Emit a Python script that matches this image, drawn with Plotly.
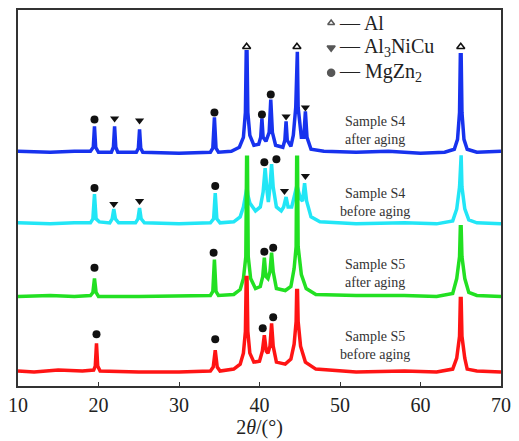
import plotly.graph_objects as go

# ---- data (2theta in degrees, intensity in arbitrary units incl. stacking offset) ----
blue_pts = [(10,236),(14,235),(17,236),(19.0,236),(19.35,240),(19.5,261),(19.65,240),(20.0,235),
            (21.6,235),(21.85,240),(22.0,261),(22.15,240),(22.4,235),(24.7,235),(24.95,239),(25.1,258),
            (25.25,239),(25.5,235),(30,234),(33.9,235),(34.2,239),(34.4,270),(34.6,239),(34.9,235),
            (36.5,236),(37.5,240),(38.0,250),(38.25,275),(38.35,336),(38.45,336),(38.55,275),(38.8,252),
            (39.3,242),(39.9,243),(40.15,250),(40.3,269),(40.45,250),(40.8,246),(41.2,255),(41.4,288),
            (41.6,255),(42.0,242),(42.9,240),(43.15,247),(43.3,266),(43.45,247),(43.9,241),(44.2,252),
            (44.5,280),(44.6,336),(44.7,336),(44.8,280),(45.2,250),(45.5,250),(45.7,276),(45.9,250),
            (46.4,238),(48,236),(52,235),(56,236),(60,234),(63,235),(64.2,238),(64.6,248),(64.85,275),
            (64.95,333),(65.05,333),(65.15,275),(65.4,248),(65.8,238),(67,235),(70,236)]
cyan_pts = [(10,164),(14,163),(17,164),(19.0,164),(19.3,168),(19.5,193),(19.7,168),(20.1,165),
            (21.4,164),(21.7,168),(21.9,178),(22.1,168),(22.5,164),(24.6,164),(24.9,168),(25.1,179),
            (25.3,168),(25.7,164),(30,163),(33.9,164),(34.3,168),(34.5,194),(34.7,168),(35.1,164),
            (36.8,165),(37.6,170),(38.0,180),(38.25,192),(38.35,200),(38.45,200),(38.55,192),(38.8,184),
            (39.5,176),(40.1,180),(40.45,195),(40.7,219),(40.95,195),(41.1,185),(41.3,200),(41.5,223),
            (41.7,200),(42.1,180),(42.7,176),(43.0,180),(43.3,190),(43.55,180),(44.0,180),(44.35,192),
            (44.6,200),(44.7,200),(44.95,192),(45.1,188),(45.35,186),(45.6,204),(45.85,186),(46.4,170),
            (47.5,165),(52,163),(58,164),(62,163),(64.0,166),(64.5,178),(64.85,200),(64.95,232),
            (65.05,232),(65.15,200),(65.5,178),(66.0,167),(67,164),(70,163)]
green_pts = [(10,90),(14,91),(17,90),(19.0,91),(19.3,94),(19.5,108),(19.7,94),(20.0,90),(25,90),
             (30,91),(33.9,91),(34.2,95),(34.4,127),(34.6,95),(34.9,91),(36.8,92),(37.6,97),(38.0,108),
             (38.3,130),(38.4,230),(38.5,230),(38.6,130),(38.9,108),(39.5,98),(40.1,100),(40.4,110),
             (40.6,129),(40.8,110),(41.05,108),(41.3,115),(41.5,134),(41.7,115),(42.1,98),(43.2,96),
             (43.9,100),(44.3,118),(44.55,140),(44.62,230),(44.72,230),(44.8,140),(45.2,112),(45.8,98),
             (47,92),(52,91),(58,91),(62,90),(64.0,93),(64.5,108),(64.85,130),(64.95,160),(65.05,160),
             (65.15,130),(65.5,108),(66.0,94),(67,91),(70,90)]
red_pts = [(10,15),(12,14),(15,16),(18,15),(19.4,16),(19.6,20),(19.75,43),(19.9,20),(20.2,15),(25,14),
           (30,14),(33.9,15),(34.25,19),(34.5,36),(34.75,19),(35.1,15),(36.8,17),(37.6,22),(38.0,33),
           (38.25,55),(38.35,109),(38.45,109),(38.55,55),(38.8,33),(39.3,24),(40.0,25),(40.35,35),
           (40.6,51),(40.85,35),(41.05,33),(41.3,40),(41.5,63),(41.7,40),(42.1,24),(43.2,22),(43.9,27),
           (44.3,42),(44.55,65),(44.62,96),(44.72,96),(44.8,65),(45.1,40),(45.7,24),(47,17),(52,14),
           (58,15),(62,14),(64.0,17),(64.5,28),(64.85,50),(64.95,88),(65.05,88),(65.15,50),(65.5,28),
           (65.8,17),(67,15),(70,14)]

# phase markers
al_x = [38.4, 44.65, 65.0]
al_y = [341, 341, 341]
nicu_x = [22.0, 25.1, 43.3, 45.7, 21.9, 25.1, 43.1, 45.7]
nicu_y = [269, 267, 271, 280, 183, 186, 196, 211]
mgzn_x = [19.5, 34.4, 40.3, 41.4, 19.5, 34.5, 40.6, 42.1, 19.5, 34.3, 40.6, 41.7, 19.75, 34.5, 40.4, 41.7]
mgzn_y = [268, 275, 273, 293, 199, 201, 225, 228, 119, 134, 135, 139, 52, 47, 58, 69]

sample_labels = ["Sample S5<br>before aging", "Sample S5<br>after aging",
                 "Sample S4<br>before aging", "Sample S4<br>after aging"]
label_x = [54.4, 54.4, 54.4, 54.4]
label_y = [40.5, 113, 184.5, 257]

legend_names = ["— Al", "— Al<sub>3</sub>NiCu", "— MgZn<sub>2</sub>"]
legend_x = [48.9, 48.9, 48.9]
legend_y = [365, 340, 315]

x_ticks = [10, 20, 30, 40, 50, 60, 70]

# drawn bottom-most last so lower patterns' Al peaks show through the stack as in the original
series = [(blue_pts, "#1732ee"), (cyan_pts, "#22e6f6"), (green_pts, "#22e022"), (red_pts, "#ff1414")]

SERIF = "Liberation Serif"
fig = go.Figure()
for pts, col in series:
    fig.add_trace(go.Scatter(x=[p[0] for p in pts], y=[p[1] for p in pts], mode="lines",
                             line=dict(color=col, width=3.5), hoverinfo="skip", showlegend=False))

fig.add_trace(go.Scatter(x=al_x, y=al_y, mode="markers", showlegend=False,
                         marker=dict(symbol="triangle-up-open", size=7, color="#111",
                                     line=dict(width=1.6, color="#111"))))
fig.add_trace(go.Scatter(x=nicu_x, y=nicu_y, mode="markers", showlegend=False,
                         marker=dict(symbol="triangle-down", size=8, color="#111")))
fig.add_trace(go.Scatter(x=mgzn_x, y=mgzn_y, mode="markers", showlegend=False,
                         marker=dict(symbol="circle", size=8, color="#111")))

# legend symbols
fig.add_trace(go.Scatter(x=legend_x, y=legend_y, mode="markers", showlegend=False,
                         marker=dict(symbol=["triangle-up-open", "triangle-down", "circle"],
                                     size=[6, 7, 7], color="#111", line=dict(width=1.5, color="#111"))))
for nm, lx, ly in zip(legend_names, legend_x, legend_y):
    fig.add_annotation(x=lx + 0.75, y=ly, text=nm, showarrow=False, xanchor="left", yanchor="middle",
                       font=dict(family=SERIF, size=20, color="#222"))

for t, lx, ly in zip(sample_labels, label_x, label_y):
    fig.add_annotation(x=lx, y=ly, text=t, showarrow=False, xanchor="center", yanchor="middle",
                       font=dict(family=SERIF, size=14, color="#333"))

fig.update_layout(
    width=519, height=441, autosize=False,
    margin=dict(l=13, r=16, t=8, b=55),
    paper_bgcolor="white", plot_bgcolor="white",
    font=dict(family=SERIF, size=20, color="#222"),
    xaxis=dict(range=[10, 70], tickvals=x_ticks, ticks="inside", ticklen=4, tickwidth=1,
               tickcolor="#333", showline=True, mirror=True, linecolor="#333", linewidth=1.5,
               showgrid=False, zeroline=False,
               title=dict(text="2<i>θ</i>/(°)", standoff=2, font=dict(family=SERIF, size=20)),
               tickfont=dict(family=SERIF, size=20)),
    yaxis=dict(range=[0, 378], showticklabels=False, ticks="", showline=True, mirror=True,
               linecolor="#333", linewidth=1.5, showgrid=False, zeroline=False),
)
fig.write_html("out.html")
